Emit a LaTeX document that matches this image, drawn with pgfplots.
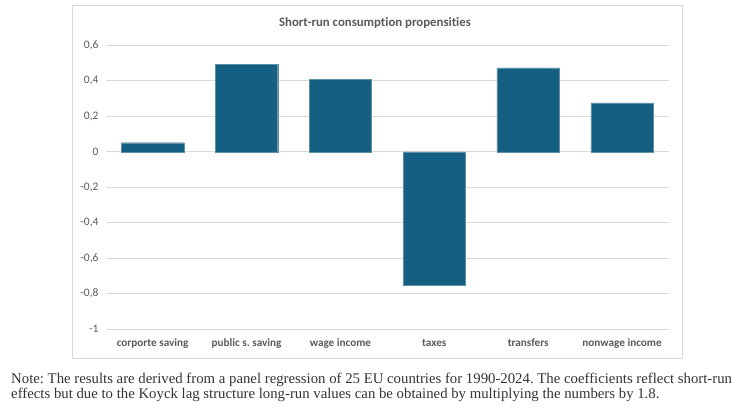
\documentclass[border=0pt]{standalone}
\usepackage{pgfplots}
\pgfplotsset{compat=1.18}
\usepackage{fontspec}
\setmainfont{Carlito}[Ligatures=NoCommon]
\newfontfamily\notefont{Liberation Serif}
\definecolor{barc}{HTML}{156082}
\definecolor{txt}{HTML}{595959}
\definecolor{gridc}{HTML}{D9D9D9}
\frenchspacing
\begin{document}
\begin{tikzpicture}
\useasboundingbox (0pt,0pt) rectangle (756pt,412pt);
\draw[gridc, line width=0.8pt] (72.3pt,54pt) rectangle (682.5pt,406.7pt);
\node[anchor=base, text=txt, font=\fontsize{12.8}{14}\selectfont\bfseries] at (375pt,385.3pt) {Short-run consumption propensities};
\begin{axis}[
  at={(105.7pt,82.7pt)}, anchor=south west,
  scale only axis, width=563.3pt, height=284pt,
  xmin=-0.5, xmax=5.5, ymin=-1, ymax=0.6,
  ybar, bar width=62.4pt,
  axis line style={draw=none},
  major tick length=0pt,
  ymajorgrids, grid style={gridc, line width=0.8pt},
  ytick={-1,-0.8,-0.6,-0.4,-0.2,0,0.2,0.4,0.6},
  yticklabels={{-1},{-0,8},{-0,6},{-0,4},{-0,2},{0},{0,2},{0,4},{0,6}},
  yticklabel style={anchor=east, inner sep=0pt, xshift=-7pt, text=txt, font=\fontsize{11.5}{13}\selectfont},
  xtick={0,1,2,3,4,5},
  xticklabels={corporte saving,public s. saving,wage income,taxes,transfers,nonwage income},
  xticklabel style={anchor=base, inner sep=0pt, yshift=-17.2pt, text=txt, font=\fontsize{11.2}{13}\selectfont\bfseries},
]
\addplot[fill=barc, draw=barc!70!white, line width=0.3pt] coordinates {(0,0.051) (1,0.492) (2,0.408) (3,-0.751) (4,0.473) (5,0.276)};
\end{axis}
\node[anchor=base west, inner sep=0pt, text=black!80, font=\notefont\fontsize{14.78}{16}\selectfont] at (11pt,28.7pt) {Note: The results are derived from a panel regression of 25 EU countries for 1990-2024. The coefficients reflect short-run};
\node[anchor=base west, inner sep=0pt, text=black!80, font=\notefont\fontsize{14.78}{16}\selectfont] at (11pt,13.7pt) {effects but due to the Koyck lag structure long-run values can be obtained by multiplying the numbers by 1.8.};
\end{tikzpicture}
\end{document}
